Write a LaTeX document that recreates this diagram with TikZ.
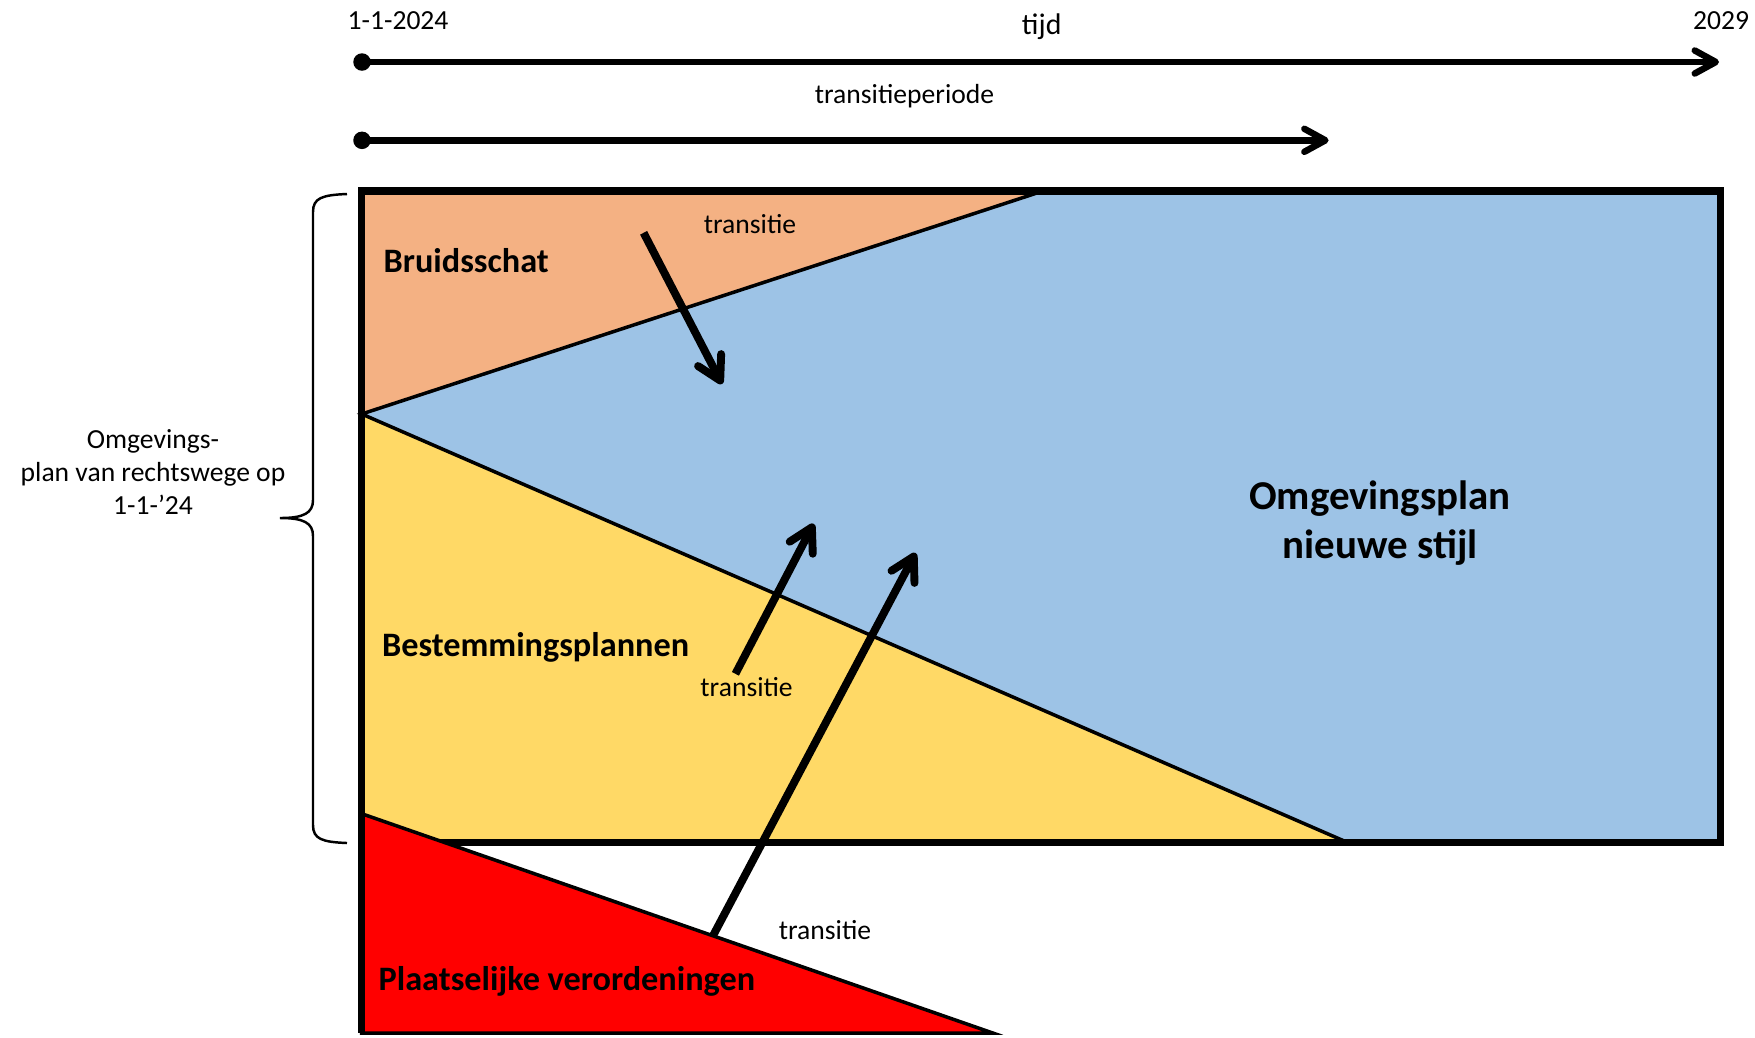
\documentclass[tikz,border=0pt]{standalone}
\usepackage{fontspec}
\setmainfont{Carlito}
\usetikzlibrary{arrows.meta, calc}
\definecolor{bruidkleur}{HTML}{F4B183}
\definecolor{nieuwkleur}{HTML}{9DC3E6}
\definecolor{bestemkleur}{HTML}{FFD966}
\definecolor{verordkleur}{HTML}{FF0000}

\tikzset{
	tijdpijl/.style={line width=3.7pt, -{Straight Barb[length=4.2mm, width=4.6mm, line cap=round, line join=round]}},
	transpijl/.style={line width=4.5pt, -{Straight Barb[length=4.6mm, width=5.2mm, line cap=round, line join=round]}},
	klein/.style={font=\fontsize{15.7}{18.8}\selectfont, inner sep=0pt},
	vak/.style={font=\fontsize{19.5}{23}\selectfont\bfseries, inner sep=0pt, anchor=base west},
	groot/.style={font=\fontsize{23.3}{27.9}\selectfont\bfseries, inner sep=0pt, align=center},
}

\begin{document}
\begin{tikzpicture}[x=0.2mm, y=-0.2mm]
	\useasboundingbox (0,0) rectangle (1755,1037);

	\coordinate (LB) at (361.7,191);
	\coordinate (RO) at (1720,842);
	\coordinate (LO) at (361.7,842);
	\coordinate (BT) at (1043,191);
	\coordinate (M) at (361.7,414);
	\coordinate (BE) at (1346.5,842);
	\coordinate (VT) at (361.7,813.7);
	\coordinate (VR) at (992.8,1033);
	\coordinate (VL) at (361.7,1033);

	\fill [nieuwkleur] (LB) rectangle (RO);
	\fill [bruidkleur] (LB) -- (BT) -- (M) -- cycle;
	\fill [bestemkleur] (M) -- (BE) -- (LO) -- cycle;
	\draw [line width=2pt] (BT) -- (M) -- (BE);
	\draw [line width=4pt] (LB) rectangle (RO);
	\filldraw [fill=verordkleur, line width=2pt] (VT) -- (VR) -- (VL) -- cycle;
	\draw [line width=4pt] (VT) -- (VL);

	\coordinate (T0) at (362,62);
	\coordinate (T1) at (1719,62);
	\coordinate (P0) at (362,140.3);
	\coordinate (P1) at (1328.6,140.3);
	\draw [tijdpijl] (T0) -- (T1);
	\draw [tijdpijl] (P0) -- (P1);
	\fill (T0) circle [radius=1.75mm];
	\fill (P0) circle [radius=1.75mm];

	\node [klein, anchor=base west] (start) at (347.3,29.3) {1-1-2024};
	\node [klein, anchor=base east] (eind) at (1749.3,29.3) {2029};
	\node [font=\fontsize{17}{20}\selectfont, inner sep=0pt, anchor=base] (tijd) at (1041.7,34.3) {tijd};
	\node [klein, anchor=base] (periode) at (904.5,103) {transitieperiode};

	\coordinate (A1) at (643.6,232.8);
	\coordinate (B1) at (722,384);
	\coordinate (A2) at (735.4,673.8);
	\coordinate (B2) at (813.7,523.8);
	\coordinate (A3) at (713,935.7);
	\coordinate (B3) at (915.6,553);
	\foreach \a/\b in {A1/B1, A2/B2, A3/B3}{
		\draw [transpijl] (\a) -- (\b);
	}
	\node [klein] (trans1) at (750,224) {transitie};
	\node [klein] (trans2) at (746.6,687.3) {transitie};
	\node [klein] (trans3) at (825,930) {transitie};

	\node [vak] (bruid) at (383.3,272.3) {Bruidsschat};
	\node [vak] (bestem) at (381.7,656) {Bestemmingsplannen};
	\node [vak] (verord) at (378.3,990) {Plaatselijke verordeningen};
	\node [groot] (nieuw) at (1380,523) {Omgevingsplan\\nieuwe stijl};

	\coordinate (K1) at (347,194);
	\coordinate (K2) at (347,843);
	\coordinate (KP) at (280,518);
	\draw [line width=1.4pt] (K1) .. controls (322,195) and (313,198) .. (313,212) -- (313,500)
		.. controls (313,513) and (304,518) .. (KP)
		.. controls (304,518) and (313,523) .. (313,536) -- (313,825)
		.. controls (313,839) and (322,842) .. (K2);
	\node [klein, align=center] (rechtswege) at (153,472) {Omgevings-\\plan van rechtswege op\\1-1-’24};
\end{tikzpicture}
\end{document}
